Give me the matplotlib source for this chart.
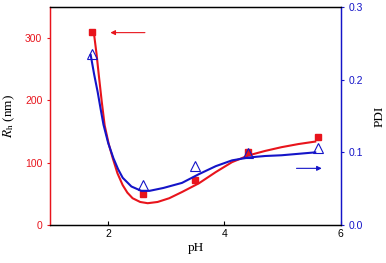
import matplotlib
matplotlib.use('Agg')
import matplotlib.pyplot as plt

# measured points
ph = [1.72, 2.6, 3.5, 4.4, 5.6]
rh = [310, 50, 72, 118, 142]
pdi = [0.236, 0.055, 0.081, 0.099, 0.106]

# fitted curves
rh_fit_x = [1.75, 1.80, 1.84, 1.89, 1.94, 2.01, 2.08, 2.16, 2.25, 2.33, 2.42,
            2.55, 2.68, 2.85, 3.05, 3.27, 3.56, 3.85, 4.13, 4.42, 4.70, 4.98, 5.27, 5.56]
rh_fit_y = [312, 275, 240, 198, 160, 130, 107, 83, 64, 52, 43,
            37, 35, 37, 43, 53, 67, 85, 101, 112, 119, 125, 130, 134]
pdi_fit_x = [1.70, 1.76, 1.82, 1.87, 1.92, 2.00, 2.09, 2.17, 2.25, 2.40, 2.57,
             2.71, 2.95, 3.27, 3.56, 3.85, 4.13, 4.42, 4.70, 4.98, 5.27, 5.56]
pdi_fit_y = [0.234, 0.207, 0.183, 0.160, 0.138, 0.113, 0.092, 0.077, 0.065, 0.053, 0.047,
             0.047, 0.051, 0.058, 0.070, 0.081, 0.089, 0.093, 0.095, 0.096, 0.098, 0.100]

red = '#e8141c'
blue = '#1414c8'

plt.rcParams['font.family'] = ['Liberation Sans', 'DejaVu Sans']
plt.rcParams['mathtext.fontset'] = 'stix'

fig = plt.figure(figsize=(3.86, 2.63), dpi=100)
ax1 = fig.add_axes([0.1295, 0.1445, 0.7535, 0.8285])
ax2 = ax1.twinx()

ax1.plot(rh_fit_x, rh_fit_y, color=red, lw=1.5)
ax1.plot(ph, rh, 's', color=red, ms=5, zorder=5)
ax2.plot(pdi_fit_x, pdi_fit_y, color=blue, lw=1.5)
ax2.plot(ph, pdi, '^', mfc='none', mec=blue, ms=6.5, mew=0.8, zorder=5)

# direction arrows
ax1.annotate('', xy=(1.99, 309), xytext=(2.68, 309),
             arrowprops=dict(arrowstyle='-|>', color=red, lw=0.8, mutation_scale=7))
ax2.annotate('', xy=(5.72, 0.078), xytext=(5.19, 0.078),
             arrowprops=dict(arrowstyle='-|>', color=blue, lw=0.8, mutation_scale=7))

ax1.set_xlim(1, 6)
ax1.set_ylim(0, 350)
ax2.set_ylim(0, 0.3)
ax1.set_xticks([2, 4, 6])
ax1.set_yticks([0, 100, 200, 300])
ax2.set_yticks([0.0, 0.1, 0.2, 0.3])
ax2.set_yticklabels(['0.0', '0.1', '0.2', '0.3'])

ax1.tick_params(axis='x', direction='in', length=3, labelsize=7.5, pad=3)
ax1.tick_params(axis='y', colors=red, length=2, labelsize=7.5)
ax2.tick_params(axis='y', colors=blue, length=2, labelsize=7.5)

for ax in (ax1, ax2):
    for s in ax.spines.values():
        s.set_linewidth(0.9)
    ax.spines['left'].set_color(red)
    ax.spines['right'].set_color(blue)

ax1.set_xlabel('pH', family='Liberation Serif', fontsize=9.5, labelpad=2)
ax1.set_ylabel(r'$R_\mathrm{h}$ (nm)', family='Liberation Serif', fontsize=9.5, labelpad=6)
ax2.set_ylabel('PDI', family='Liberation Serif', fontsize=9.5, labelpad=8)

fig.savefig('out.png', dpi=100)
